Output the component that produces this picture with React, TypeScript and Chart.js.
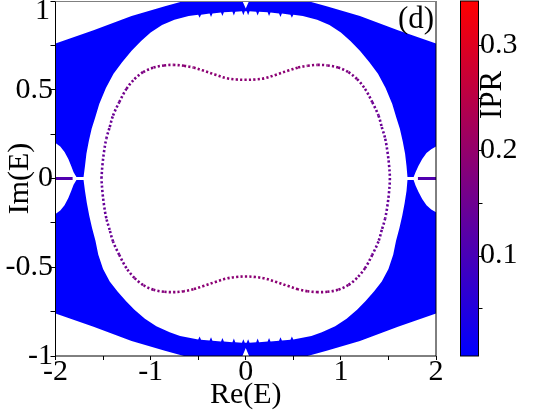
import React, { useEffect, useRef } from 'react';
import { Chart, registerables } from 'chart.js';

Chart.register(...registerables);

const FONT = "'Liberation Serif', 'Times New Roman', serif";

const IPR_MIN = 0.0046;
const IPR_MAX = 0.342;

const xTickValues = [-2, -1.5, -1, -0.5, 0, 0.5, 1, 1.5, 2];
const xTickLabels = [-2, -1, 0, 1, 2];
const yTickValues = [-1, -0.75, -0.5, -0.25, 0, 0.25, 0.5, 0.75, 1];
const yTickLabels = [-1, -0.5, 0, 0.5];
const iprTickValues = [0.05, 0.1, 0.15, 0.2, 0.25, 0.3];
const iprTickLabels = [0.1, 0.2, 0.3];

// bulk (extended) states: upper band polygon
const upperBandRe = [-1.78, -1.81, -1.835, -1.865, -1.905, -1.95, -2.0, -2.0, -1.6, -1.2, -0.85, -0.65, -0.035, 0.0, 0.035, 0.65, 0.85, 1.2, 1.6, 2.0, 2.0, 1.95, 1.9, 1.855, 1.815, 1.785, 1.765, 1.70, 1.69, 1.675, 1.65, 1.62, 1.585, 1.54, 1.47, 1.39, 1.30, 1.20, 1.10, 1.00, 0.88, 0.75, 0.60, 0.50, 0.485, 0.47, 0.38, 0.365, 0.35, 0.26, 0.245, 0.23, 0.14, 0.125, 0.11, 0.04, 0.025, 0.01, -0.01, -0.025, -0.04, -0.11, -0.125, -0.14, -0.23, -0.245, -0.26, -0.35, -0.365, -0.38, -0.47, -0.485, -0.50, -0.60, -0.75, -0.88, -1.00, -1.10, -1.20, -1.30, -1.39, -1.47, -1.54, -1.585, -1.62, -1.65, -1.675, -1.69, -1.705, -1.78];
const upperBandIm = [0.008, 0.035, 0.07, 0.11, 0.15, 0.18, 0.2, 0.76, 0.835, 0.915, 0.97, 1.0, 1.0, 0.958, 1.0, 1.0, 0.97, 0.915, 0.835, 0.76, 0.18, 0.165, 0.143, 0.11, 0.07, 0.035, 0.008, 0.008, 0.07, 0.14, 0.21, 0.28, 0.34, 0.42, 0.51, 0.59, 0.655, 0.72, 0.775, 0.822, 0.865, 0.895, 0.915, 0.922, 0.905, 0.923, 0.929, 0.91, 0.93, 0.935, 0.915, 0.936, 0.94, 0.918, 0.94, 0.942, 0.92, 0.942, 0.942, 0.92, 0.942, 0.94, 0.918, 0.94, 0.936, 0.915, 0.935, 0.93, 0.91, 0.929, 0.923, 0.905, 0.922, 0.915, 0.895, 0.865, 0.822, 0.775, 0.72, 0.655, 0.59, 0.51, 0.42, 0.34, 0.28, 0.21, 0.14, 0.07, 0.008, 0.008];

// lower band polygon
const lowerBandRe = [-1.78, -1.81, -1.835, -1.865, -1.905, -1.95, -2.0, -2.0, -1.6, -1.2, -0.85, -0.65, -0.035, 0.0, 0.035, 0.65, 0.85, 1.2, 1.6, 2.0, 2.0, 1.95, 1.9, 1.855, 1.815, 1.785, 1.765, 1.70, 1.69, 1.67, 1.645, 1.615, 1.58, 1.55, 1.50, 1.43, 1.35, 1.26, 1.17, 1.06, 0.94, 0.80, 0.69, 0.50, 0.485, 0.47, 0.38, 0.365, 0.35, 0.26, 0.245, 0.23, 0.14, 0.125, 0.11, 0.04, 0.025, 0.01, -0.01, -0.025, -0.04, -0.11, -0.125, -0.14, -0.23, -0.245, -0.26, -0.35, -0.365, -0.38, -0.47, -0.485, -0.50, -0.69, -0.80, -0.94, -1.06, -1.17, -1.26, -1.35, -1.43, -1.50, -1.55, -1.58, -1.615, -1.645, -1.67, -1.69, -1.705, -1.78];
const lowerBandIm = [-0.008, -0.035, -0.07, -0.11, -0.15, -0.18, -0.2, -0.76, -0.835, -0.915, -0.97, -1.0, -1.0, -0.955, -1.0, -1.0, -0.97, -0.915, -0.835, -0.76, -0.19, -0.175, -0.15, -0.115, -0.075, -0.04, -0.008, -0.008, -0.07, -0.14, -0.21, -0.28, -0.35, -0.43, -0.51, -0.58, -0.635, -0.69, -0.74, -0.79, -0.832, -0.866, -0.888, -0.907, -0.89, -0.908, -0.913, -0.895, -0.914, -0.918, -0.898, -0.919, -0.922, -0.902, -0.923, -0.925, -0.905, -0.925, -0.925, -0.905, -0.925, -0.923, -0.902, -0.922, -0.919, -0.898, -0.918, -0.914, -0.895, -0.913, -0.908, -0.89, -0.907, -0.888, -0.866, -0.832, -0.79, -0.74, -0.69, -0.635, -0.58, -0.51, -0.43, -0.35, -0.28, -0.21, -0.14, -0.07, -0.008, -0.008];
const bandIpr = 0.005;

// closed loop of localized states
const curveRe = [-1.517, -1.507, -1.49, -1.466, -1.43, -1.395, -1.33, -1.254, -1.17, -1.079, -0.97, -0.86, -0.763, -0.65, -0.55, -0.447, -0.32, -0.201, -0.1, 0, 0.1, 0.201, 0.32, 0.447, 0.55, 0.65, 0.755, 0.86, 0.97, 1.079, 1.17, 1.254, 1.33, 1.395, 1.43, 1.466, 1.49, 1.507, 1.515, 1.507, 1.49, 1.466, 1.43, 1.395, 1.33, 1.254, 1.17, 1.079, 0.97, 0.86, 0.76, 0.65, 0.55, 0.447, 0.32, 0.2, 0.1, 0, -0.1, -0.2, -0.32, -0.447, -0.55, -0.65, -0.74, -0.86, -0.97, -1.079, -1.17, -1.254, -1.33, -1.395, -1.43, -1.466, -1.49, -1.507, -1.517];
const curveIm = [0, 0.073, 0.15, 0.224, 0.29, 0.355, 0.43, 0.505, 0.56, 0.599, 0.625, 0.637, 0.64, 0.635, 0.625, 0.608, 0.585, 0.565, 0.558, 0.556, 0.558, 0.565, 0.585, 0.608, 0.625, 0.635, 0.64, 0.637, 0.625, 0.599, 0.56, 0.505, 0.43, 0.355, 0.29, 0.224, 0.15, 0.073, 0, -0.073, -0.15, -0.224, -0.29, -0.355, -0.43, -0.505, -0.56, -0.6, -0.627, -0.638, -0.64, -0.635, -0.624, -0.606, -0.583, -0.563, -0.555, -0.552, -0.555, -0.563, -0.583, -0.606, -0.624, -0.635, -0.64, -0.638, -0.627, -0.6, -0.56, -0.505, -0.43, -0.355, -0.29, -0.224, -0.15, -0.073, 0];
const curveIpr = [0.14, 0.14, 0.14, 0.14, 0.145, 0.145, 0.15, 0.16, 0.165, 0.17, 0.175, 0.18, 0.185, 0.187, 0.19, 0.19, 0.19, 0.19, 0.19, 0.19, 0.19, 0.19, 0.19, 0.19, 0.19, 0.187, 0.185, 0.18, 0.175, 0.17, 0.165, 0.16, 0.15, 0.145, 0.145, 0.14, 0.14, 0.14, 0.14, 0.14, 0.14, 0.14, 0.145, 0.145, 0.15, 0.16, 0.165, 0.17, 0.175, 0.18, 0.185, 0.187, 0.19, 0.19, 0.19, 0.19, 0.19, 0.19, 0.19, 0.19, 0.19, 0.19, 0.19, 0.187, 0.185, 0.18, 0.175, 0.17, 0.165, 0.16, 0.15, 0.145, 0.145, 0.14, 0.14, 0.14, 0.14];

// short edge-state segments on the real axis
const leftLineRe = [-2.0, -1.82];
const leftLineIm = [0, 0];
const rightLineRe = [1.81, 2.0];
const rightLineIm = [0, 0];
const edgeIpr = 0.11;

function iprColor(v: number): string {
  let t = (v - IPR_MIN) / (IPR_MAX - IPR_MIN);
  t = Math.max(0, Math.min(1, t));
  return `rgb(${Math.round(255 * t)},0,${Math.round(255 * (1 - t))})`;
}

const toPts = (re: number[], im: number[]) => re.map((x, i) => ({ x, y: im[i] }));

const overlay = {
  id: 'overlay',
  afterDraw(chart: any) {
    const { ctx, chartArea: a, scales } = chart;
    const cb = scales.cb;
    const ys = scales.y;
    ctx.save();
    // frame
    ctx.lineWidth = 1;
    ctx.strokeStyle = '#000';
    ctx.beginPath();
    ctx.moveTo(a.left, a.top);
    ctx.lineTo(a.left, a.bottom);
    ctx.lineTo(a.right, a.bottom);
    ctx.lineTo(a.right, a.top);
    ctx.stroke();
    ctx.strokeStyle = '#808080';
    ctx.beginPath();
    ctx.moveTo(a.left, a.top + 0.5);
    ctx.lineTo(a.right, a.top + 0.5);
    ctx.stroke();

    // colorbar
    const barL = a.right + 24.5;
    const barR = a.right + 42.5;
    const yTop = cb.getPixelForValue(IPR_MAX);
    const yBot = cb.getPixelForValue(IPR_MIN);
    const g = ctx.createLinearGradient(0, yBot, 0, yTop);
    g.addColorStop(0, iprColor(IPR_MIN));
    g.addColorStop(1, iprColor(IPR_MAX));
    ctx.fillStyle = g;
    ctx.fillRect(barL, yTop, barR - barL, yBot - yTop);
    ctx.strokeStyle = '#000';
    ctx.lineWidth = 1;
    ctx.strokeRect(barL, yTop, barR - barL, yBot - yTop);
    ctx.beginPath();
    for (const t of cb.ticks) {
      const y = Math.round(cb.getPixelForValue(t.value)) + 0.5;
      ctx.moveTo(barR, y);
      ctx.lineTo(barR + 4, y);
    }
    ctx.stroke();

    ctx.fillStyle = '#000';
    // top y tick label (shifted into view like the original)
    ctx.font = `30px ${FONT}`;
    ctx.textAlign = 'right';
    ctx.textBaseline = 'middle';
    const y1 = Math.max(ys.getPixelForValue(1), a.top + 10);
    ctx.fillText('1', 50, y1);

    // panel label
    ctx.textAlign = 'center';
    ctx.font = `31px ${FONT}`;
    ctx.fillText('(d)', a.right - 20, a.top + 19);

    // colorbar title
    ctx.save();
    ctx.translate(a.right + 57, 95);
    ctx.rotate(-Math.PI / 2);
    ctx.font = `31px ${FONT}`;
    ctx.textAlign = 'center';
    ctx.textBaseline = 'middle';
    ctx.fillText('IPR', 0, 0);
    ctx.restore();
    ctx.restore();
  },
};

export default function App() {
  const ref = useRef<HTMLCanvasElement | null>(null);
  useEffect(() => {
    document.body.style.margin = '0';
    const canvas = ref.current;
    if (!canvas) return;
    const tickFont = { family: FONT, size: 30, lineHeight: 1 };
    const chart = new Chart(canvas, {
      type: 'line',
      data: {
        datasets: [
          {
            data: toPts(upperBandRe, upperBandIm),
            borderColor: 'rgba(0,0,0,0)',
            borderWidth: 0,
            backgroundColor: iprColor(bandIpr),
            fill: 'shape',
            pointRadius: 0,
            tension: 0,
          },
          {
            data: toPts(lowerBandRe, lowerBandIm),
            borderColor: 'rgba(0,0,0,0)',
            borderWidth: 0,
            backgroundColor: iprColor(bandIpr),
            fill: 'shape',
            pointRadius: 0,
            tension: 0,
          },
          {
            data: toPts(curveRe, curveIm),
            borderColor: iprColor(0.17),
            segment: {
              borderColor: (c: any) => iprColor((curveIpr[c.p0DataIndex] + curveIpr[c.p1DataIndex]) / 2),
            },
            borderWidth: 2.6,
            borderDash: [2.2, 2.2],
            fill: false,
            pointRadius: 0,
            tension: 0.35,
          },
          {
            data: toPts(leftLineRe, leftLineIm),
            borderColor: iprColor(edgeIpr),
            borderWidth: 3,
            fill: false,
            pointRadius: 0,
          },
          {
            data: toPts(rightLineRe, rightLineIm),
            borderColor: iprColor(edgeIpr),
            borderWidth: 3,
            fill: false,
            pointRadius: 0,
          },
        ] as any,
      },
      options: {
        responsive: false,
        maintainAspectRatio: false,
        animation: false,
        events: [],
        layout: { padding: { top: 1, left: 0, right: 0, bottom: 0 } },
        plugins: { legend: { display: false }, tooltip: { enabled: false } },
        scales: {
          x: {
            type: 'linear',
            position: 'bottom',
            min: -2,
            max: 2,
            afterBuildTicks: (s: any) => {
              s.ticks = xTickValues.map((value) => ({ value }));
            },
            afterFit: (s: any) => {
              s.height = 57;
            },
            grid: { display: true, drawOnChartArea: false, drawTicks: true, tickLength: 4, color: '#000', lineWidth: 1 },
            border: { display: false },
            ticks: {
              autoSkip: false,
              maxRotation: 0,
              padding: 0,
              color: '#000',
              font: { family: FONT, size: 30, lineHeight: 0.8 },
              callback: (v: any) => (xTickLabels.includes(Number(v)) ? String(v) : ''),
            },
            title: {
              display: true,
              text: 'Re(E)',
              color: '#000',
              font: { family: FONT, size: 30, lineHeight: 1 },
              padding: { top: 0, bottom: 3 },
            },
          },
          y: {
            type: 'linear',
            position: 'left',
            min: -1,
            max: 1,
            afterBuildTicks: (s: any) => {
              s.ticks = yTickValues.map((value) => ({ value }));
            },
            afterFit: (s: any) => {
              s.width = 55.5;
              s.paddingTop = 0;
              s.paddingBottom = 0;
            },
            grid: { display: true, drawOnChartArea: false, drawTicks: true, tickLength: 5, color: '#000', lineWidth: 1 },
            border: { display: false },
            ticks: {
              autoSkip: false,
              padding: -2.5,
              color: '#000',
              font: tickFont,
              callback: (v: any) => (yTickLabels.includes(Number(v)) ? String(v) : ''),
            },
            title: {
              display: true,
              text: 'Im(E)',
              color: '#000',
              font: { family: FONT, size: 30, lineHeight: 1 },
              padding: { top: 5, bottom: 0 },
            },
          },
          cb: {
            type: 'linear',
            position: 'right',
            axis: 'y',
            min: IPR_MIN,
            max: IPR_MAX,
            afterBuildTicks: (s: any) => {
              s.ticks = iprTickValues.map((value) => ({ value }));
            },
            afterFit: (s: any) => {
              s.width = 104;
              s.paddingTop = 0;
              s.paddingBottom = 0;
            },
            grid: { display: false, drawTicks: false, drawOnChartArea: false },
            border: { display: false },
            ticks: {
              autoSkip: false,
              padding: 44,
              color: '#000',
              font: tickFont,
              callback: (v: any) => (iprTickLabels.includes(Number(v)) ? String(v) : ''),
            },
          },
        } as any,
      },
      plugins: [overlay],
    });
    return () => chart.destroy();
  }, []);
  return (
    <div style={{ position: 'absolute', left: 0, top: 0, width: 540, height: 413 }}>
      <canvas ref={ref} width={540} height={413} style={{ display: 'block', width: 540, height: 413 }} />
    </div>
  );
}
